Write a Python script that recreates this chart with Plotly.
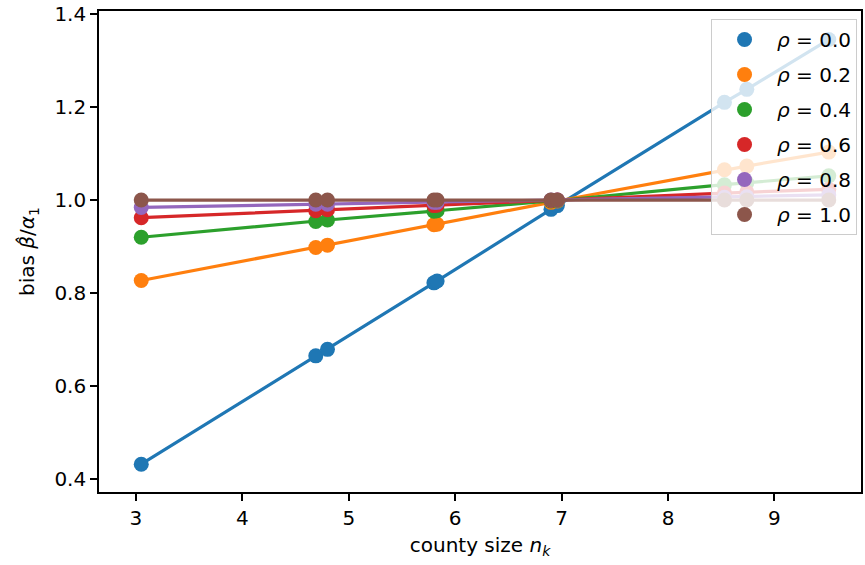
import plotly.graph_objects as go

county_size = [3.05, 4.69, 4.80, 5.80, 5.83, 6.90, 6.96, 8.53, 8.74, 9.51]
rho_labels = ["0.0", "0.2", "0.4", "0.6", "0.8", "1.0"]
bias_rho00 = [0.432, 0.665, 0.679, 0.822, 0.826, 0.980, 0.988, 1.210, 1.238, 1.345]
bias_rho02 = [0.827, 0.898, 0.903, 0.947, 0.948, 0.995, 0.998, 1.065, 1.073, 1.103]
bias_rho04 = [0.920, 0.954, 0.957, 0.976, 0.977, 0.998, 0.999, 1.033, 1.037, 1.052]
bias_rho06 = [0.962, 0.977, 0.979, 0.988, 0.989, 0.999, 1.000, 1.015, 1.017, 1.023]
bias_rho08 = [0.984, 0.991, 0.991, 0.995, 0.995, 1.000, 1.000, 1.006, 1.007, 1.011]
bias_rho10 = [1.000, 1.000, 1.000, 1.000, 1.000, 1.000, 1.000, 1.000, 1.000, 1.000]
series = [bias_rho00, bias_rho02, bias_rho04, bias_rho06, bias_rho08, bias_rho10]
colors = ["#1f77b4", "#ff7f0e", "#2ca02c", "#d62728", "#9467bd", "#8c564b"]

FONT = "DejaVu Sans"
fig = go.Figure()
for i, (lab, ys, c) in enumerate(zip(rho_labels, series, colors)):
    fig.add_trace(go.Scatter(x=county_size, y=ys, mode="lines",
                             line=dict(color=c, width=3.2), showlegend=False,
                             hoverinfo="skip"))
    fig.add_trace(go.Scatter(x=county_size, y=ys, mode="markers",
                             marker=dict(color=c, size=15, line=dict(width=0)),
                             legendgroup=f"g{i}",
                             name=f"<i>ρ</i> = {lab}"))

axis_common = dict(showline=True, linecolor="black", linewidth=1.6, mirror=True,
                   ticks="outside", ticklen=7, tickwidth=1.6, tickcolor="black",
                   showgrid=False, zeroline=False, ticklabeloverflow="allow",
                   tickfont=dict(family=FONT, size=20, color="black"))
fig.update_xaxes(range=[2.653, 9.813], tickvals=[3, 4, 5, 6, 7, 8, 9],
                 title=dict(text="county size <i>n</i><sub><i>k</i></sub>",
                            font=dict(family=FONT, size=20, color="black"), standoff=9),
                 **axis_common)
fig.update_yaxes(range=[0.3723, 1.4064], tickvals=[0.4, 0.6, 0.8, 1.0, 1.2, 1.4],
                 ticktext=["0.4", "0.6", "0.8", "1.0", "1.2", "1.4"],
                 title=dict(text="bias <i>β̂</i>/<i>α</i><sub>1</sub>",
                            font=dict(family=FONT, size=20, color="black"), standoff=14),
                 **axis_common)
fig.update_layout(
    width=865, height=565,
    margin=dict(l=99, r=2, t=7, b=73),
    plot_bgcolor="white", paper_bgcolor="white",
    font=dict(family=FONT, size=20, color="black"),
    legend=dict(x=0.9948, y=0.9835, xanchor="right", yanchor="top",
                bgcolor="rgba(255,255,255,0.8)", bordercolor="#cccccc", borderwidth=1,
                tracegroupgap=6, itemwidth=55,
                font=dict(family=FONT, size=20, color="black")),
)
fig.write_html("out.html")
